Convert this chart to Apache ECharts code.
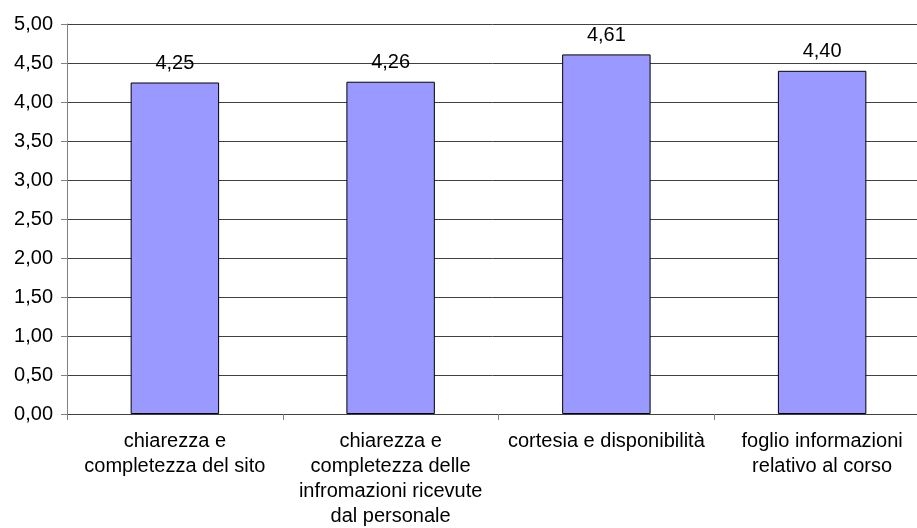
<!DOCTYPE html>
<html>
<head>
<meta charset="utf-8">
<script src="https://cdn.jsdelivr.net/npm/echarts@6/dist/echarts.min.js"></script>
<style>
html,body{margin:0;padding:0;background:#fff;}
#chart{width:917px;height:528px;}
</style>
</head>
<body>
<div id="chart"></div>
<script>
var categories = [
  "chiarezza e\ncompletezza del sito",
  "chiarezza e\ncompletezza delle\ninfromazioni ricevute\ndal personale",
  "cortesia e disponibilità",
  "foglio informazioni\nrelativo al corso"
];
var values = [4.25, 4.26, 4.61, 4.40];
var yMin = 0, yMax = 5, yInterval = 0.5;

function fmt(v){ return Number(v).toFixed(2).replace('.', ','); }

var chart = echarts.init(document.getElementById('chart'), null, {renderer:'canvas'});
var font = 'Liberation Sans, Arial, sans-serif';
chart.setOption({
  animation: false,
  backgroundColor: '#fff',
  grid: {left: 67, width: 863, top: 24, height: 390, containLabel: false, outerBoundsMode: 'none'},
  xAxis: {
    type: 'category',
    data: categories,
    boundaryGap: true,
    axisLine: {show: true, lineStyle: {color: '#404040', width: 1}},
    axisTick: {show: true, length: 6, lineStyle: {color: '#808080'}},
    axisLabel: {
      interval: 0, margin: 15, color: '#000', fontFamily: font, fontSize: 20,
      lineHeight: 25, align: 'center', hideOverlap: false
    },
    splitLine: {show: false}
  },
  yAxis: {
    type: 'value',
    min: yMin, max: yMax, interval: yInterval,
    axisLine: {show: true, lineStyle: {color: '#808080', width: 1}},
    axisTick: {show: true, length: 6, lineStyle: {color: '#808080'}},
    axisLabel: {margin: 14, color: '#000', fontFamily: font, fontSize: 20, formatter: fmt},
    splitLine: {show: true, lineStyle: {color: '#404040', width: 1}}
  },
  series: [{
    type: 'bar',
    data: values,
    barWidth: '41%',
    itemStyle: {color: '#9999FF', borderColor: '#000', borderWidth: 1},
    label: {
      show: true, position: 'top', distance: 9, color: '#000',
      fontFamily: font, fontSize: 20,
      formatter: function(p){ return fmt(p.value); }
    }
  }]
});
</script>
</body>
</html>
